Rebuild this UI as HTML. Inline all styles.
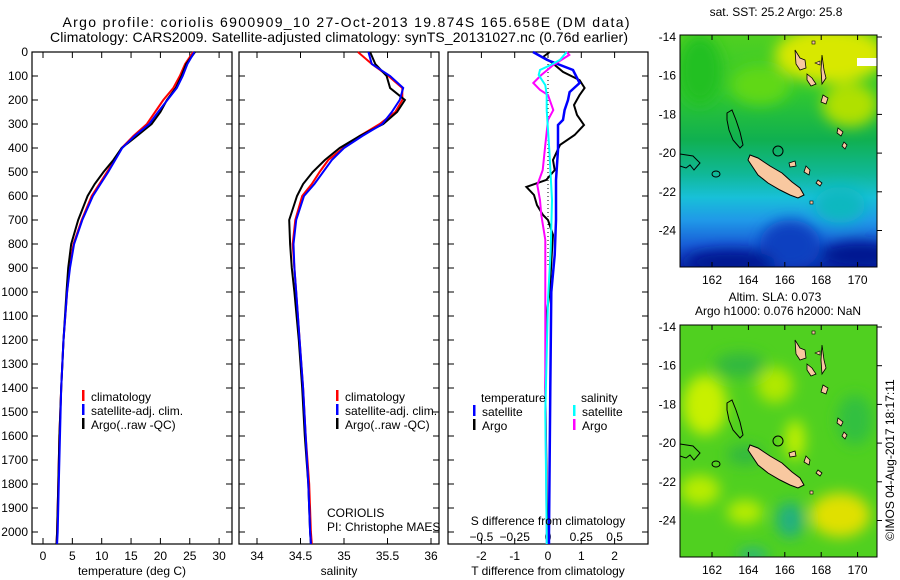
<!DOCTYPE html>
<html><head><meta charset="utf-8"><style>
body{margin:0;background:#fff;}
svg{display:block;font-family:"Liberation Sans",sans-serif;}
text{font-size:12px;fill:#000;}
</style></head><body>
<svg id="fig" width="900" height="580" viewBox="0 0 900 580">
<defs>
<filter id="blur6" x="-50%" y="-50%" width="200%" height="200%"><feGaussianBlur stdDeviation="7"/></filter>
<clipPath id="m1c"><rect x="680" y="35" width="197" height="232"/></clipPath>
<clipPath id="m2c"><rect x="680" y="325" width="197" height="232"/></clipPath>
<linearGradient id="sstg" x1="0" y1="0" x2="0" y2="1">
<stop offset="0" stop-color="#50d020"/><stop offset="0.25" stop-color="#30c830"/>
<stop offset="0.45" stop-color="#10b050"/><stop offset="0.6" stop-color="#10b898"/>
<stop offset="0.7" stop-color="#18c0d8"/><stop offset="0.8" stop-color="#2098e8"/>
<stop offset="0.9" stop-color="#1860d8"/><stop offset="1" stop-color="#0828a8"/></linearGradient>
</defs>
<text x="346" y="27" text-anchor="middle" style="font-size:14px" textLength="567" lengthAdjust="spacing">Argo profile: coriolis 6900909_10 27-Oct-2013 19.874S 165.658E (DM data)</text>
<text x="339" y="42" text-anchor="middle" style="font-size:14px" textLength="578" lengthAdjust="spacing">Climatology: CARS2009. Satellite-adjusted climatology: synTS_20131027.nc (0.76d earlier)</text>
<g id="plots"></g>
<g id="maps">
<g clip-path="url(#m1c)">
<rect x="680" y="35" width="197" height="232" fill="url(#sstg)"/>
<g filter="url(#blur6)">
<ellipse cx="830" cy="55" rx="55" ry="28" fill="#d8e800"/>
<ellipse cx="850" cy="105" rx="28" ry="22" fill="#b0e000"/>
<ellipse cx="700" cy="70" rx="22" ry="35" fill="#20c020"/>
<ellipse cx="760" cy="85" rx="30" ry="20" fill="#60d818"/>
<ellipse cx="790" cy="245" rx="30" ry="25" fill="#1040c0"/>
<ellipse cx="860" cy="255" rx="40" ry="14" fill="#001890"/>
<ellipse cx="730" cy="262" rx="45" ry="12" fill="#001890"/>
<ellipse cx="840" cy="205" rx="25" ry="18" fill="#10b8c0"/>
</g>
<rect x="857" y="58" width="20" height="8" fill="#fff"/>
</g>
<rect x="680" y="35" width="197" height="232" fill="none" stroke="#000"/>
<g clip-path="url(#m2c)">
<rect x="680" y="325" width="197" height="232" fill="#50d020"/>
<g filter="url(#blur6)">
<ellipse cx="705" cy="405" rx="22" ry="30" fill="#c8f000"/>
<ellipse cx="775" cy="385" rx="18" ry="18" fill="#b0e800"/>
<ellipse cx="795" cy="440" rx="10" ry="20" fill="#c0f000"/>
<ellipse cx="840" cy="515" rx="30" ry="22" fill="#e0e000"/>
<ellipse cx="700" cy="490" rx="20" ry="15" fill="#b8ec00"/>
<ellipse cx="745" cy="512" rx="18" ry="12" fill="#b8ec00"/>
<ellipse cx="790" cy="520" rx="14" ry="18" fill="#20b080"/>
<ellipse cx="740" cy="365" rx="25" ry="12" fill="#30b840"/>
<ellipse cx="745" cy="455" rx="18" ry="10" fill="#30b840"/>
<ellipse cx="855" cy="420" rx="18" ry="25" fill="#30c040"/>
<ellipse cx="753" cy="555" rx="15" ry="6" fill="#20b090"/>
</g>
</g>
<rect x="680" y="325" width="197" height="232" fill="none" stroke="#000"/>
<g id="islands"></g>
</g>
<text x="776" y="16" text-anchor="middle">sat. SST: 25.2 Argo: 25.8</text>
<text x="775" y="301" text-anchor="middle">Altim. SLA: 0.073</text>
<text x="778" y="315" text-anchor="middle">Argo h1000: 0.076 h2000: NaN</text>
<text transform="translate(894,460) rotate(-90)" text-anchor="middle">©IMOS 04-Aug-2017 18:17:11</text>
</svg>
<script>
// ---- data ----
const depths = [0,50,100,150,200,250,300,350,400,450,500,550,600,700,800,900,1000,1200,1400,1600,1800,2000,2050];
const tempClim = [25.6,24.2,23.3,22.2,20.5,19.1,17.7,15.4,13.4,12.2,10.9,9.6,8.3,6.6,5.2,4.5,4.1,3.5,3.1,2.8,2.6,2.4,2.3];
const tempSat  = [25.8,24.6,23.8,22.8,21.2,19.6,18.1,15.6,13.5,12.3,11.1,9.8,8.5,6.7,5.3,4.6,4.1,3.5,3.1,2.9,2.7,2.5,2.4];
const tempArgo = [25.9,24.4,23.6,22.6,21.1,20.0,18.5,16.0,13.4,12.0,10.3,8.8,7.6,6.0,4.8,4.3,4.0,3.5,3.1,2.8,2.6,2.4,2.3];
const salClim = [35.16,35.32,35.51,35.67,35.67,35.59,35.41,35.18,34.99,34.82,34.72,34.63,34.52,34.44,34.41,34.43,34.45,34.49,34.53,34.56,34.60,34.62,34.63];
const salSat  = [35.28,35.32,35.53,35.68,35.64,35.55,35.44,35.21,35.00,34.86,34.76,34.66,34.54,34.45,34.42,34.43,34.45,34.49,34.53,34.56,34.59,34.61,34.62];
const salArgo = [35.30,35.36,35.49,35.53,35.70,35.61,35.45,35.18,34.95,34.78,34.64,34.53,34.46,34.37,34.38,34.40,34.43,34.48,34.52,34.55,34.59,34.61,34.62];
const dDepthTA = [0,21,42,83,117,150,179,221,262,304,346,387,450,492,533,562,596,638,679,700,762,825,1000,1100,1400,2000,2050];
const dTArgo   = [0.05,-0.15,0.1,0.45,0.95,1.1,0.95,0.78,0.87,1.08,0.8,0.36,0.15,0.2,-0.05,-0.65,-0.42,-0.33,-0.15,0,0.15,0.12,0.05,-0.05,-0.08,-0.02,-0.02];
const dDepthTS = [0,33,75,129,167,200,242,283,304,408,533,700,846,1000,1400,2000,2050];
const dTSat    = [-0.45,-0.03,0.75,0.95,0.65,0.6,0.5,0.45,0.3,0.3,0.24,0.24,0.2,0.1,0.07,0.03,0.03];
const dDepthSA = [0,12,54,96,129,158,179,242,283,387,492,554,617,679,783,1000,1400,2000,2050];
const dSArgo   = [0.14,0.16,0.04,-0.05,-0.11,-0.06,0,0.04,0,-0.02,-0.04,-0.08,-0.06,-0.05,-0.02,-0.02,-0.02,-0.01,-0.01];
const dDepthSS = [0,33,54,75,96,138,179,242,408,617,825,1033,1500,2000,2050];
const dSSat    = [0.14,0.09,0.02,-0.06,-0.07,-0.02,-0.01,-0.01,0.01,0.03,0.02,0,-0.02,-0.01,-0.01];
const depthTicks = [0,100,200,300,400,500,600,700,800,900,1000,1100,1200,1300,1400,1500,1600,1700,1800,1900,2000];
const tempTicks = [0,5,10,15,20,25,30];
const salTicks = [34,34.5,35,35.5,36];
const dTTicks = [-2,-1,0,1,2];
const dSTicks = [-0.5,-0.25,0,0.25,0.5];
const dSTickLabels = ["−0.5","−0.25","0","0.25","0.5"];
const lonTicks = [162,164,166,168,170];
const latTicks = [-14,-16,-18,-20,-22,-24];

// ---- scales ----
const YTOP=52, YBOT=544;
const yD = d => 52 + d*0.24;
const xT = t => 43 + t*5.87;
const xS = s => 257 + (s-34)*87;
const xDT = t => 548 + t*33.3;
const xDS = s => 548 + s*133.2;
const xLon = l => 712 + (l-162)*18.2;
const yLat1 = l => 37 + (-14-l)*19.35;
const NS='http://www.w3.org/2000/svg';
const plots=document.getElementById('plots');
function mk(tag,attrs,parent){const e=document.createElementNS(NS,tag);for(const k in attrs)e.setAttribute(k,attrs[k]);(parent||plots).appendChild(e);return e;}
function txt(x,y,s,anchor,parent){const e=mk('text',{x:x,y:y,'text-anchor':anchor||'middle'},parent);e.textContent=s;return e;}

const panels=[{x0:32,x1:232,name:'temperature-panel'},{x0:239,x1:439,name:'salinity-panel'},{x0:448,x1:648,name:'difference-panel'}];
panels.forEach(p=>{
  const r=mk('rect',{x:p.x0,y:YTOP,width:p.x1-p.x0,height:YBOT-YTOP,fill:'#fff',stroke:'#000','stroke-width':1.2});
  
  
  depthTicks.forEach(d=>{
    const y=yD(d);
    const t1=mk('line',{x1:p.x0,x2:p.x0+6,y1:y,y2:y,stroke:'#000'});
    
    
    const t2=mk('line',{x1:p.x1-6,x2:p.x1,y1:y,y2:y,stroke:'#000'});
    
    
  });
});
depthTicks.forEach(d=>{
  const t=txt(28,yD(d)+4,String(d),'end');
  
  
});
function xticks(vals,fx,labels,ly,top){
  vals.forEach((v,i)=>{
    const x=fx(v);
    const a=mk('line',{x1:x,x2:x,y1:YBOT-6,y2:YBOT,stroke:'#000'});
    
    
    if(top){const b=mk('line',{x1:x,x2:x,y1:YTOP,y2:YTOP+6,stroke:'#000'});
      
      }
    const t=txt(x,ly,labels?labels[i]:String(v));
    
    
  });
}
xticks(tempTicks,xT,null,560,true);
xticks(salTicks,xS,null,560,true);
xticks(dTTicks,xDT,null,560,true);
dSTicks.forEach((v,i)=>{const t=txt(xDS(v),541,dSTickLabels[i]);
  
  });

function line(xs,ds,fx,color,name,w){
  const pts=xs.map((v,i)=>fx(v).toFixed(1)+','+yD(ds[i]).toFixed(1)).join(' ');
  const e=mk('polyline',{points:pts,fill:'none',stroke:color,'stroke-width':w||2,'stroke-linejoin':'miter'});
  
  
}
const z=mk('line',{x1:xDT(0),x2:xDT(0),y1:YTOP,y2:yD(900),stroke:'#000','stroke-dasharray':'1,3'});


line(tempClim,depths,xT,'#f00','temp-climatology-line');
line(tempArgo,depths,xT,'#000','temp-argo-line');
line(tempSat,depths,xT,'#00f','temp-satellite-line');
line(salClim,depths,xS,'#f00','sal-climatology-line');
line(salArgo,depths,xS,'#000','sal-argo-line');
line(salSat,depths,xS,'#00f','sal-satellite-line');
line(dTArgo,dDepthTA,xDT,'#000','tdiff-argo-line');
line(dTSat,dDepthTS,xDT,'#00f','tdiff-satellite-line',2.5);
line(dSArgo,dDepthSA,xDS,'#f0f','sdiff-argo-line');
line(dSSat,dDepthSS,xDS,'#0ff','sdiff-satellite-line');

function legend(x,y,color,label,nm){
  const m=mk('rect',{x:x-1,y:y-7,width:2.5,height:11,fill:color});
  
  
  const t=txt(x+8,y+4,label,'start');
  
  
}
legend(83,397,'#f00','climatology','legend-temp-climatology');
legend(83,411,'#00f','satellite-adj. clim.','legend-temp-satellite');
legend(83,425,'#000','Argo(..raw -QC)','legend-temp-argo');
legend(337,397,'#f00','climatology','legend-sal-climatology');
legend(337,411,'#00f','satellite-adj. clim.','legend-sal-satellite');
legend(337,425,'#000','Argo(..raw -QC)','legend-sal-argo');
let t;
t=txt(481,402,'temperature','start');


t=txt(581,402,'salinity','start');


legend(474,412,'#00f','satellite','legend-tdiff-satellite');
legend(474,426,'#000','Argo','legend-tdiff-argo');
legend(574,412,'#0ff','satellite','legend-sdiff-satellite');
legend(574,426,'#f0f','Argo','legend-sdiff-argo');
t=txt(327,517,'CORIOLIS','start');


t=txt(327,531,'PI: Christophe MAES','start');


t=txt(548,525,'S difference from climatology');


t=txt(132,575,'temperature (deg C)');


t=txt(339,575,'salinity');


t=txt(548,575,'T difference from climatology');



// ---- map axes and islands ----
const isl=document.getElementById('islands');
[0,290].forEach((off,mi)=>{
  lonTicks.forEach(l=>{
    const x=xLon(l);
    const a=mk('line',{x1:x,x2:x,y1:35+off,y2:40+off,stroke:'#000'},isl);
    
    
    const b=mk('line',{x1:x,x2:x,y1:262+off,y2:267+off,stroke:'#000'},isl);
    
    
    const tl=txt(x,284+off,String(l),'middle',isl);
    
    
  });
  latTicks.forEach(l=>{
    const y=yLat1(l)+off;
    const a=mk('line',{x1:877,x2:882,y1:y,y2:y,stroke:'#000'},isl);
    
    
    const tl=txt(676,y+4,String(l),'end',isl);
    
    
  });
  const g=mk('g',{transform:'translate(0,'+off+')'},isl);
  
  
  const sand='#f8c8a0';
  mk('path',{d:'M750,155 L758,158 L770,166 L782,173 L792,182 L800,188 L804,195 L798,198 L790,195 L780,190 L768,183 L758,175 L752,166 L748,160 Z',fill:sand,stroke:'#000','stroke-width':1},g);
  mk('path',{d:'M727,113 L732,110 L736,120 L740,132 L743,145 L740,148 L733,140 L729,130 L727,120 Z',fill:'none',stroke:'#000','stroke-width':1},g);
  mk('path',{d:'M680,154 L693,156 L700,163 L694,170 L690,165 L686,168 L680,166',fill:'none',stroke:'#000','stroke-width':1},g);
  mk('ellipse',{cx:716,cy:174,rx:4,ry:3,fill:'none',stroke:'#000'},g);
  mk('circle',{cx:778,cy:151,r:5,fill:'none',stroke:'#000'},g);
  mk('path',{d:'M795,50 L800,58 L805,60 L806,68 L800,70 L796,64 Z',fill:sand,stroke:'#000','stroke-width':0.8},g);
  mk('path',{d:'M807,74 L812,78 L816,84 L811,86 L807,80 Z',fill:sand,stroke:'#000','stroke-width':0.8},g);
  mk('path',{d:'M822,55 L824,70 L826,78 L822,84 L821,70 Z',fill:sand,stroke:'#000','stroke-width':0.8},g);
  mk('path',{d:'M823,95 L828,98 L826,104 L821,102 Z',fill:sand,stroke:'#000','stroke-width':0.8},g);
  mk('path',{d:'M838,128 L843,132 L841,136 L837,133 Z',fill:sand,stroke:'#000','stroke-width':0.8},g);
  mk('path',{d:'M844,142 L847,145 L845,149 L842,146 Z',fill:sand,stroke:'#000','stroke-width':0.8},g);
  mk('path',{d:'M806,166 L810,170 L809,175 L804,172 Z',fill:sand,stroke:'#000','stroke-width':0.8},g);
  mk('path',{d:'M818,180 L822,183 L820,186 L816,183 Z',fill:sand,stroke:'#000','stroke-width':0.8},g);
  mk('path',{d:'M789,163 L795,161 L796,166 L790,167 Z',fill:sand,stroke:'#000','stroke-width':0.8},g);
  mk('rect',{x:810,y:201,width:3,height:3,fill:sand,stroke:'#000','stroke-width':0.6},g);
  mk('rect',{x:812,y:41,width:3,height:3,fill:sand,stroke:'#000','stroke-width':0.6},g);
  mk('path',{d:'M815,63 L820,61 L820,65 Z',fill:sand,stroke:'#000','stroke-width':0.6},g);
});
</script>
</body></html>
